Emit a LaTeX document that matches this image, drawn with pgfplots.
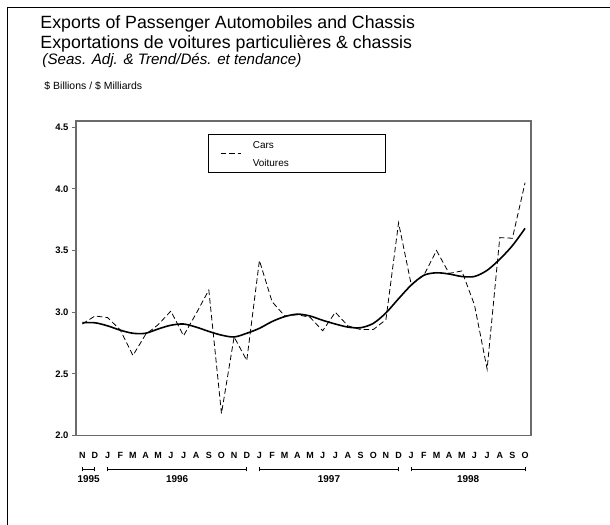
\documentclass[border=0pt]{standalone}
\usepackage{fontspec}
\setmainfont{Liberation Sans}
\usepackage{pgfplots}
\pgfplotsset{compat=1.18}
\usepackage{pgfplotstable}
\usetikzlibrary{calc}

\pgfplotstableread{
i v
0 2.905
1 2.97
2 2.957
3 2.857
4 2.65
5 2.82
6 2.90
7 3.01
8 2.81
9 2.99
10 3.18
11 2.18
12 2.80
13 2.61
14 3.42
15 3.086
16 2.97
17 2.98
18 2.96
19 2.85
20 3.00
21 2.89
22 2.86
23 2.86
24 2.94
25 3.725
26 3.225
27 3.30
28 3.50
29 3.315
30 3.335
31 3.06
32 2.54
33 3.605
34 3.60
35 4.05
}\cars

\pgfplotstableread{
i v
0 2.915
1 2.915
2 2.89
3 2.855
4 2.83
5 2.83
6 2.865
7 2.895
8 2.905
9 2.88
10 2.845
11 2.815
12 2.80
13 2.83
14 2.87
15 2.925
16 2.965
17 2.985
18 2.97
19 2.935
20 2.905
21 2.88
22 2.875
23 2.91
24 2.995
25 3.11
26 3.22
27 3.30
28 3.32
29 3.31
30 3.29
31 3.29
32 3.34
33 3.43
34 3.54
35 3.68
}\trend

\definecolor{axgray}{gray}{0.42}

\begin{document}
\begin{tikzpicture}[x=1bp,y=1bp]
\begin{axis}[
  scale only axis, width=455bp, height=314.7bp,
  xmin=-0.5, xmax=35.47, ymin=2, ymax=4.55,
  clip=false,
  axis line style={axgray, line width=1.3bp},
  tick align=outside, tick pos=left,
  major tick length=4bp,
  ytick={2,2.5,3,3.5,4,4.5},
  ytick style={axgray, line width=1bp},
  xtick style={draw=none},
  /pgf/number format/assume math mode=true,
  yticklabel style={font=\fontsize{9.5}{11}\selectfont\bfseries, /pgf/number format/fixed, /pgf/number format/fixed zerofill, /pgf/number format/precision=1},
  xtick={0,...,35},
  xticklabels={N,D,J,F,M,A,M,J,J,A,S,O,N,D,J,F,M,A,M,J,J,A,S,O,N,D,J,F,M,A,M,J,J,A,S,O},
  xticklabel style={font=\fontsize{9}{11}\selectfont\bfseries, anchor=center, yshift=-15.8bp},
  legend style={at={(0.2908,0.9577)}, anchor=north west, draw=black, line width=0.6bp, inner sep=0pt, nodes={inner sep=0pt}, font=\fontsize{10}{18.4}\selectfont},
  legend image code/.code={\path (0bp,-18.2bp) (43.4bp,18.2bp); \draw[#1] (11.7bp,0bp) -- (31.7bp,0bp);},
]
\coordinate (BL) at (rel axis cs:0,0);
\addplot[black, line width=0.8bp, dash pattern=on 5.5bp off 3bp] table[x=i, y=v] {\cars};
\addlegendentry{\parbox[c][36.4bp][c]{132.6bp}{Cars\\Voitures\par\vspace*{13bp}}}
\addplot[black, line width=1.6bp, smooth, forget plot] table[x=i, y=v] {\trend};
% year brackets
\draw[line width=1bp] (axis cs:0,1.728) -- (axis cs:1,1.728);
\draw[line width=1bp] (axis cs:0,1.71) -- (axis cs:0,1.746);
\draw[line width=1bp] (axis cs:1,1.71) -- (axis cs:1,1.746);
\draw[line width=1bp] (axis cs:2,1.728) -- (axis cs:13,1.728);
\draw[line width=1bp] (axis cs:2,1.71) -- (axis cs:2,1.746);
\draw[line width=1bp] (axis cs:13,1.71) -- (axis cs:13,1.746);
\draw[line width=1bp] (axis cs:14,1.728) -- (axis cs:25,1.728);
\draw[line width=1bp] (axis cs:14,1.71) -- (axis cs:14,1.746);
\draw[line width=1bp] (axis cs:25,1.71) -- (axis cs:25,1.746);
\draw[line width=1bp] (axis cs:26,1.728) -- (axis cs:35,1.728);
\draw[line width=1bp] (axis cs:26,1.71) -- (axis cs:26,1.746);
\draw[line width=1bp] (axis cs:35,1.71) -- (axis cs:35,1.746);
\node[font=\fontsize{10}{12}\selectfont\bfseries] at (axis cs:0.5,1.647) {1995};
\node[font=\fontsize{10}{12}\selectfont\bfseries] at (axis cs:7.5,1.647) {1996};
\node[font=\fontsize{10}{12}\selectfont\bfseries] at (axis cs:19.5,1.647) {1997};
\node[font=\fontsize{10}{12}\selectfont\bfseries] at (axis cs:30.5,1.647) {1998};
\end{axis}
\pgfresetboundingbox
\coordinate (O) at ($(BL)+(-76,-89.3)$);
\path[use as bounding box] (O) rectangle ++(610,525);
\begin{scope}[shift={(O)}]
\draw[line width=1bp] (8,0) -- (8,517.7) -- (610,517.7);
\node[anchor=base west, inner sep=0pt, font=\fontsize{17.8}{20}\selectfont] at (40.3,496.7) {Exports of Passenger Automobiles and Chassis};
\node[anchor=base west, inner sep=0pt, font=\fontsize{17.8}{20}\selectfont] at (40.3,476.7) {Exportations de voitures particulières \& chassis};
\node[anchor=base west, inner sep=0pt, font=\fontsize{15.2}{18}\selectfont\itshape] at (42.3,460.7) {(Seas. Adj. \& Trend/Dés. et tendance)};
\node[anchor=base west, inner sep=0pt, font=\fontsize{10.5}{12}\selectfont] at (44.3,435.7) {\$ Billions / \$ Milliards};
\end{scope}
\end{tikzpicture}
\end{document}
